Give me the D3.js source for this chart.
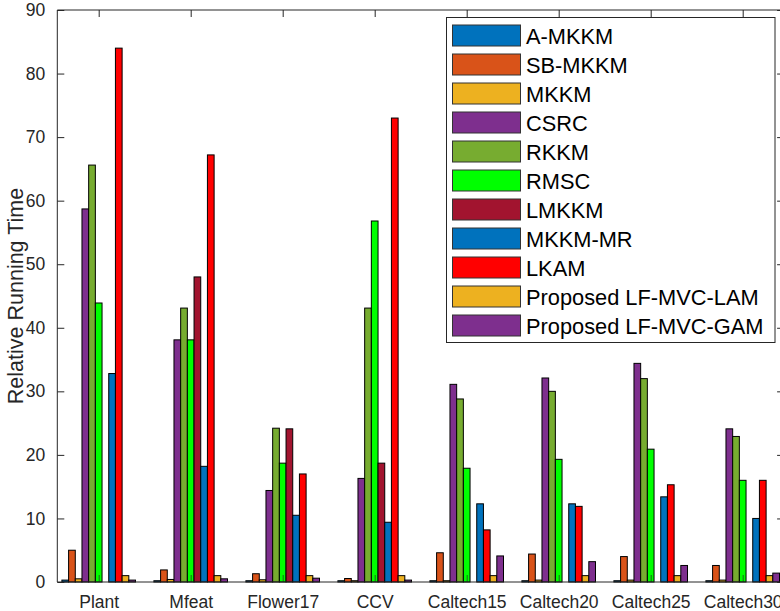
<!DOCTYPE html>
<html>
<head>
<meta charset="utf-8">
<script src="https://cdn.jsdelivr.net/npm/d3@7"></script>
<style>
  html, body { margin: 0; padding: 0; background: #fff; }
  svg { display: block; font-family: "Liberation Sans", Arial, Helvetica, sans-serif; }
</style>
</head>
<body>
<svg id="chart" width="780" height="611"></svg>
<script>
// Datasets along the x axis
const datasets = ["Plant", "Mfeat", "Flower17", "CCV", "Caltech15", "Caltech20", "Caltech25", "Caltech30"];

// Methods (one bar per method in each group)
const methods = ["A-MKKM", "SB-MKKM", "MKKM", "CSRC", "RKKM", "RMSC", "LMKKM", "MKKM-MR", "LKAM",
                 "Proposed LF-MVC-LAM", "Proposed LF-MVC-GAM"];
const methodColors = ["#0072BD", "#D95319", "#EDB120", "#7E2F8E", "#77AC30", "#00FF00", "#A2142F",
                      "#0072BD", "#FF0000", "#EDB120", "#7E2F8E"];

// Relative running time, one array per method, ordered as datasets
const aMKKM   = [0.3, 0.2, 0.2, 0.2, 0.2, 0.2, 0.2, 0.2];
const sbMKKM  = [5.0, 1.9, 1.3, 0.55, 4.6, 4.4, 4.0, 2.6];
const mkkm    = [0.5, 0.4, 0.35, 0.2, 0.2, 0.3, 0.3, 0.3];
const csrc    = [58.7, 38.1, 14.4, 16.3, 31.1, 32.1, 34.4, 24.1];
const rkkm    = [65.6, 43.1, 24.2, 43.1, 28.8, 30.0, 32.0, 22.9];
const rmsc    = [43.9, 38.1, 18.7, 56.8, 17.9, 19.3, 20.9, 16.0];
const lmkkm   = [0, 48.0, 24.1, 18.7, 0, 0, 0, 0];
const mkkmMR  = [32.8, 18.2, 10.5, 9.4, 12.3, 12.3, 13.4, 10.0];
const lkam    = [84.0, 67.2, 17.0, 73.0, 8.2, 11.9, 15.3, 16.0];
const lfLAM   = [1.0, 1.0, 1.0, 1.0, 1.0, 1.0, 1.0, 1.0];
const lfGAM   = [0.3, 0.5, 0.6, 0.3, 4.1, 3.2, 2.6, 1.4];
const seriesValues = [aMKKM, sbMKKM, mkkm, csrc, rkkm, rmsc, lmkkm, mkkmMR, lkam, lfLAM, lfGAM];

// Y axis ticks
const yTicks = [0, 10, 20, 30, 40, 50, 60, 70, 80, 90];

const svg = d3.select("#chart");
const axisColor = "#262626";

const plot = { left: 57.3, top: 10, bottom: 582 };
const unit = 92; // pixels per category step

// Category positions: groups centred on 1..8
const x = d3.scaleLinear()
  .domain([0.55, 8.45])
  .range([plot.left, plot.left + 7.9 * unit]);

// Offsets of the bars inside a group (data units)
const xInner = d3.scaleBand()
  .domain(methods)
  .range([-0.4, 0.4])
  .padding(0);

const y = d3.scaleLinear()
  .domain([0, 90])
  .range([plot.bottom, plot.top]);

const plotRight = x(8.45);

// Bars
const barData = [];
seriesValues.forEach((vals, si) => {
  vals.forEach((v, ci) => {
    barData.push({ method: methods[si], color: methodColors[si], cat: ci + 1, value: v });
  });
});

svg.append("g")
  .selectAll("rect")
  .data(barData)
  .join("rect")
  .attr("x", d => x(d.cat + xInner(d.method)))
  .attr("width", d => x(d.cat + xInner(d.method) + xInner.bandwidth()) - x(d.cat + xInner(d.method)))
  .attr("y", d => y(d.value))
  .attr("height", d => y(0) - y(d.value))
  .attr("fill", d => d.color)
  .attr("stroke", "#000")
  .attr("stroke-width", 1);

// Axes frame
const frame = svg.append("g").attr("fill", "none").attr("stroke", axisColor).attr("stroke-width", 1);
frame.append("line").attr("x1", plot.left).attr("x2", plot.left).attr("y1", plot.top).attr("y2", plot.bottom);
frame.append("line").attr("x1", plotRight).attr("x2", plotRight).attr("y1", plot.top).attr("y2", plot.bottom);
frame.append("line").attr("x1", plot.left).attr("x2", plotRight).attr("y1", plot.top).attr("y2", plot.top);
frame.append("line").attr("x1", plot.left).attr("x2", plotRight).attr("y1", plot.bottom).attr("y2", plot.bottom);

// Left axis with inward ticks
const yAxis = d3.axisLeft(y).tickValues(yTicks).tickSizeInner(-7).tickSizeOuter(0).tickPadding(12);
const gy = svg.append("g").attr("transform", `translate(${plot.left},0)`).call(yAxis);
gy.select(".domain").remove();
gy.selectAll(".tick line").attr("stroke", axisColor);
gy.selectAll(".tick text")
  .attr("fill", axisColor)
  .attr("font-size", 17.5)
  .attr("font-family", "Liberation Sans, Arial, Helvetica, sans-serif");

// Right axis ticks (inward)
const yAxisR = d3.axisRight(y).tickValues(yTicks).tickSizeInner(-7).tickSizeOuter(0).tickFormat("");
const gyr = svg.append("g").attr("transform", `translate(${plotRight},0)`).call(yAxisR);
gyr.select(".domain").remove();
gyr.selectAll(".tick line").attr("stroke", axisColor);

// Bottom axis: labels and inward ticks at group centres
const cats = d3.range(1, datasets.length + 1);
const xAxis = d3.axisBottom(x).tickValues(cats).tickSizeInner(-7).tickSizeOuter(0)
  .tickPadding(14).tickFormat(d => datasets[d - 1]);
const gx = svg.append("g").attr("transform", `translate(0,${plot.bottom})`).call(xAxis);
gx.select(".domain").remove();
gx.selectAll(".tick line").attr("stroke", axisColor).attr("stroke-opacity", 0.7);
gx.selectAll(".tick text")
  .attr("fill", axisColor)
  .attr("font-size", 17.5)
  .attr("font-family", "Liberation Sans, Arial, Helvetica, sans-serif");

// Top axis ticks (inward)
const xAxisT = d3.axisTop(x).tickValues(cats).tickSizeInner(-7).tickSizeOuter(0).tickFormat("");
const gxt = svg.append("g").attr("transform", `translate(0,${plot.top})`).call(xAxisT);
gxt.select(".domain").remove();
gxt.selectAll(".tick line").attr("stroke", axisColor);

// Y axis title
svg.append("text")
  .attr("transform", `translate(23,${(plot.top + plot.bottom) / 2}) rotate(-90)`)
  .attr("text-anchor", "middle")
  .attr("font-size", 21.5)
  .attr("fill", axisColor)
  .text("Relative Running Time");

// Legend
const legend = svg.append("g").attr("transform", "translate(446.5,17.5)");
legend.append("rect")
  .attr("width", 328.5).attr("height", 325)
  .attr("fill", "#fff").attr("stroke", axisColor).attr("stroke-width", 1);
const rowH = 29;
const items = legend.selectAll("g.item")
  .data(methods)
  .join("g")
  .attr("class", "item")
  .attr("transform", (d, i) => `translate(0,${7.5 + i * rowH})`);
items.append("rect")
  .attr("x", 6).attr("y", 0).attr("width", 68).attr("height", 21)
  .attr("fill", (d, i) => methodColors[i])
  .attr("stroke", "#333").attr("stroke-width", 1);
items.append("text")
  .attr("x", 79.5).attr("y", 19)
  .attr("font-size", 21.8)
  .attr("fill", "#000")
  .text(d => d);
</script>
</body>
</html>
